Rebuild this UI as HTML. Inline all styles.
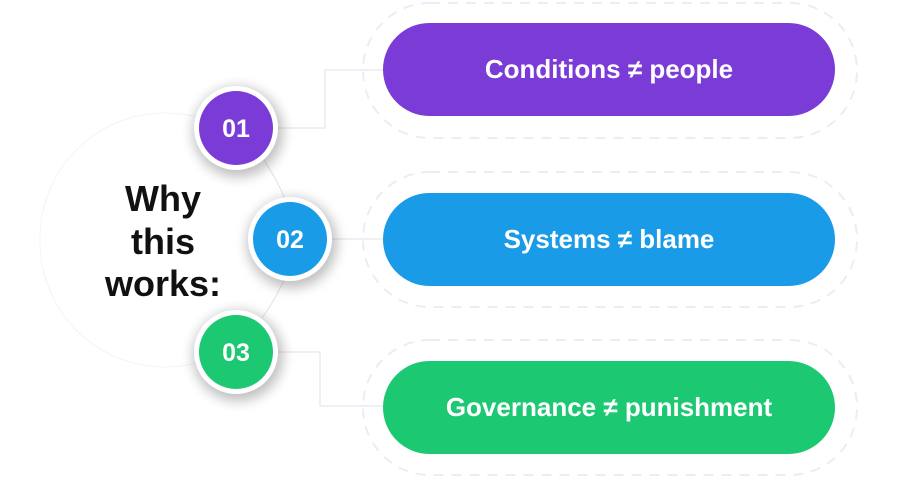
<!DOCTYPE html>
<html><head><style>
body{margin:0;width:900px;height:478px;background:#fff;overflow:hidden;font-family:"Liberation Sans",sans-serif;}
</style></head><body>
<svg width="900" height="478" viewBox="0 0 900 478" xmlns="http://www.w3.org/2000/svg">
<defs>
<filter id="sh" x="-50%" y="-50%" width="200%" height="200%"><feGaussianBlur stdDeviation="6"/></filter>
</defs>
<g fill="none" stroke="#e6eef8" stroke-width="2" stroke-dasharray="10 8">
<rect x="363" y="3" width="494" height="135" rx="67"/>
<rect x="363" y="172" width="494" height="135" rx="67"/>
<rect x="363" y="340" width="494" height="135" rx="67"/>
</g>
<g fill="none" stroke="#f1f3f6" stroke-width="1">
<path d="M40 240 A125 125 0 0 1 200 118"/>
<path d="M40 240 A125 125 0 0 0 200 362"/>
</g>
<g fill="none" stroke="#e3e7ec" stroke-width="1.2">
<path d="M264 160 Q280 185 285 200"/>
<path d="M285 278 Q275 300 262 318"/>
<path d="M276 128 H325 V70 H383"/>
<path d="M330 239 H383"/>
<path d="M276 352 H320 V406 H383"/>
</g>
<rect x="383" y="23" width="452" height="93" rx="46.5" fill="#7a3bd6"/>
<rect x="383" y="193" width="452" height="93" rx="46.5" fill="#1a9be8"/>
<rect x="383" y="361" width="452" height="93" rx="46.5" fill="#1dc873"/>
<g font-family="Liberation Sans, sans-serif" font-weight="bold" fill="#fff" font-size="26" text-anchor="middle">
<text x="609" y="78">Conditions ≠ people</text>
<text x="609" y="248">Systems ≠ blame</text>
<text x="609" y="416">Governance ≠ punishment</text>
</g>
<g>
<circle cx="238" cy="132" r="45" fill="#000" opacity="0.25" filter="url(#sh)"/>
<circle cx="236" cy="128" r="42" fill="#fff"/>
<circle cx="236" cy="128" r="37" fill="#7a3bd6"/>
<circle cx="292" cy="243" r="45" fill="#000" opacity="0.25" filter="url(#sh)"/>
<circle cx="290" cy="239" r="42" fill="#fff"/>
<circle cx="290" cy="239" r="37" fill="#1a9be8"/>
<circle cx="238" cy="356" r="45" fill="#000" opacity="0.25" filter="url(#sh)"/>
<circle cx="236" cy="352" r="42" fill="#fff"/>
<circle cx="236" cy="352" r="37" fill="#1dc873"/>
</g>
<g font-family="Liberation Sans, sans-serif" font-weight="bold" fill="#fff" font-size="25" text-anchor="middle">
<text x="236" y="137">01</text>
<text x="290" y="248">02</text>
<text x="236" y="361">03</text>
</g>
<g font-family="Liberation Sans, sans-serif" font-weight="bold" fill="#111" font-size="36" text-anchor="middle">
<text x="163" y="211">Why</text>
<text x="163" y="254">this</text>
<text x="163" y="296">works:</text>
</g>
</svg>
</body></html>
